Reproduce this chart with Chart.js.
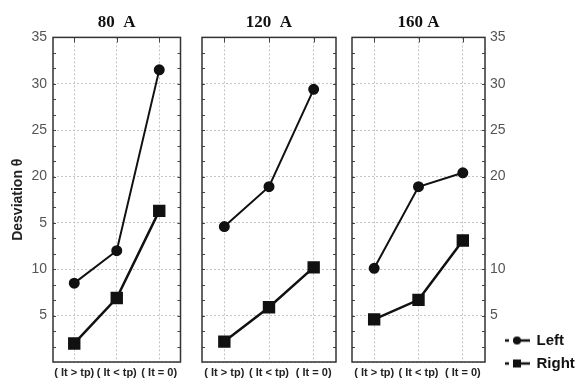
<!DOCTYPE html>
<html>
  <head>
    <title>Desviation</title>
    <script src="https://cdn.jsdelivr.net/npm/chart.js"></script>
    <style>
      body {
        margin: 0;
        background: #fff;
      }
      .wrap {
        position: relative;
        width: 577px;
        height: 385px;
      }
      canvas {
        position: absolute;
        top: 0;
      }
    </style>
  </head>
  <body>
    <div class="wrap">
      <canvas id="c80" width="190" height="385" style="left: 0px"></canvas>
      <canvas id="c120" width="160" height="385" style="left: 190px"></canvas>
      <canvas id="c160" width="237" height="385" style="left: 340px"></canvas>
    </div>
    <script>
      const categories = ["( It > tp)", "( It < tp)", "( It = 0)"];
      const panelTitles = ["80  A", "120  A", "160 A"];
      const left80 = [8.5, 12.0, 31.5];
      const right80 = [2.0, 6.9, 16.3];
      const left120 = [14.6, 18.9, 29.4];
      const right120 = [2.2, 5.9, 10.2];
      const left160 = [10.1, 18.9, 20.4];
      const right160 = [4.6, 6.7, 13.1];
      // tick labels as printed on the figure (0..35 step 5)
      const leftTickLabels = ["", "5", "10", "5", "20", "25", "30", "35"];
      const rightTickLabels = ["", "5", "10", "", "20", "25", "30", "35"];

      const sans = "'Liberation Sans', Arial, sans-serif";

      // frame round each panel, with small inner tick marks
      const framePlugin = {
        id: "frame",
        afterDraw(chart) {
          const a = chart.chartArea;
          const ctx = chart.ctx;
          const y = chart.scales.y;
          const x = chart.scales.x;
          ctx.save();
          ctx.strokeStyle = "#444";
          ctx.lineWidth = 1;
          ctx.beginPath();
          for (let v = 5 / 3; v < 35; v += 5 / 3) {
            const py = Math.round(y.getPixelForValue(v)) + 0.5;
            ctx.moveTo(a.left, py);
            ctx.lineTo(a.left + 3, py);
            ctx.moveTo(a.right, py);
            ctx.lineTo(a.right - 3, py);
          }
          for (let i = 0; i < categories.length; i++) {
            const px = Math.round(x.getPixelForValue(i)) + 0.5;
            ctx.moveTo(px, a.top);
            ctx.lineTo(px, a.top + 5);
          }
          ctx.stroke();
          ctx.strokeStyle = "#333";
          ctx.lineWidth = 1.5;
          ctx.strokeRect(a.left, a.top, a.right - a.left, a.bottom - a.top);
          ctx.restore();
        },
      };

      // "-o--" style legend marks; the canvas is wider than the drawing so
      // that the mark sits a bit left of the legend box centre
      function legendIcon(kind) {
        const c = document.createElement("canvas");
        c.width = 36;
        c.height = 12;
        const g = c.getContext("2d");
        g.fillStyle = "#111";
        g.strokeStyle = "#111";
        g.lineWidth = 2.5;
        g.beginPath();
        g.moveTo(0, 6);
        g.lineTo(6, 6);
        g.moveTo(10, 6);
        g.lineTo(27, 6);
        g.stroke();
        if (kind === "circle") {
          g.beginPath();
          g.arc(14, 6, 4, 0, Math.PI * 2);
          g.fill();
        } else {
          g.fillRect(10, 2, 8, 8);
        }
        return c;
      }
      const icons = [legendIcon("circle"), legendIcon("rect")];

      function makeChart(id, title, leftData, rightData, opts) {
        return new Chart(document.getElementById(id), {
          type: "line",
          data: {
            labels: categories,
            datasets: [
              {
                label: "Left",
                data: leftData,
                borderColor: "#111",
                backgroundColor: "#111",
                borderWidth: 2,
                pointStyle: "circle",
                pointRadius: 4.5,
                pointBackgroundColor: "#111",
                tension: 0,
              },
              {
                label: "Right",
                data: rightData,
                borderColor: "#111",
                backgroundColor: "#111",
                borderWidth: 2.5,
                pointStyle: "rect",
                pointRadius: 7,
                pointBackgroundColor: "#111",
                tension: 0,
              },
            ],
          },
          options: {
            responsive: false,
            animation: false,
            layout: { padding: opts.padding },
            plugins: {
              title: {
                display: true,
                text: title,
                fullSize: false,
                color: "#111",
                font: {
                  family: "'Liberation Serif', 'Times New Roman', serif",
                  size: 17,
                  weight: "bold",
                },
                padding: { top: 12, bottom: 5 },
              },
              legend: {
                display: !!opts.legend,
                position: "right",
                align: "end",
                maxWidth: 72,
                labels: {
                  usePointStyle: true,
                  pointStyleWidth: 16,
                  padding: 8,
                  color: "#111",
                  font: { family: sans, size: 15, weight: "bold" },
                  generateLabels: function (chart) {
                    const items =
                      Chart.defaults.plugins.legend.labels.generateLabels(chart);
                    items.forEach(function (it, i) {
                      it.pointStyle = icons[i];
                    });
                    return items;
                  },
                },
              },
              tooltip: { enabled: false },
            },
            scales: {
              x: {
                offset: true,
                border: { display: false, dash: [2, 2] },
                grid: { color: "#c4c4c4", drawTicks: false },
                ticks: {
                  autoSkip: false,
                  maxRotation: 0,
                  padding: 4,
                  color: "#222",
                  font: { family: sans, size: 11, weight: "bold" },
                },
                afterFit: function (scale) {
                  scale.height = opts.xHeight;
                },
              },
              y: {
                position: opts.yPos,
                min: 0,
                max: 35,
                border: { display: false, dash: [2, 2] },
                grid: { color: "#c4c4c4", drawTicks: false },
                ticks: {
                  display: opts.tickLabels !== null,
                  stepSize: 5,
                  padding: opts.yPos === "left" ? 6 : 5,
                  color: "#555",
                  font: { family: sans, size: 14 },
                  callback: function (value, index) {
                    return opts.tickLabels ? opts.tickLabels[index] : "";
                  },
                },
                title: {
                  display: !!opts.yTitle,
                  text: opts.yTitle || "",
                  color: "#222",
                  font: { family: sans, size: 14, weight: "bold" },
                  padding: { top: 10, bottom: 0 },
                },
                afterFit: function (scale) {
                  scale.width = opts.yWidth;
                },
              },
            },
          },
          plugins: [framePlugin],
        });
      }

      makeChart("c80", panelTitles[0], left80, right80, {
        yPos: "left",
        yWidth: 53,
        xHeight: 23,
        tickLabels: leftTickLabels,
        yTitle: "Desviation \u03b8",
        padding: { right: 4 },
      });
      makeChart("c120", panelTitles[1], left120, right120, {
        yPos: "left",
        yWidth: 12,
        xHeight: 23,
        tickLabels: null,
        padding: { right: 14 },
      });
      makeChart("c160", panelTitles[2], left160, right160, {
        yPos: "right",
        yWidth: 20,
        xHeight: 17,
        tickLabels: rightTickLabels,
        legend: true,
        padding: { left: 12, bottom: 6 },
      });
    </script>
  </body>
</html>
